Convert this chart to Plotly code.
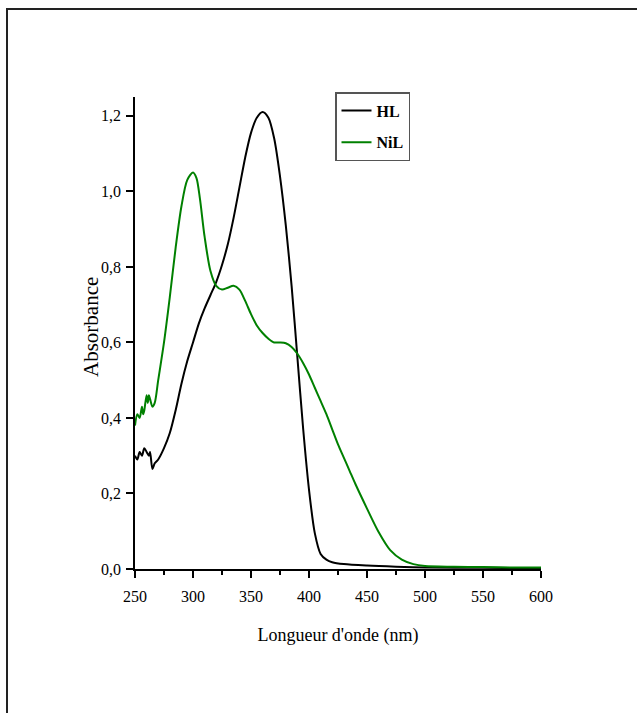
import plotly.graph_objects as go

wl_hl = [250, 252, 254, 256, 258, 260, 262, 263, 265, 267, 270, 275, 280, 285, 290, 295,
         300, 305, 310, 315, 320, 325, 330, 335, 340, 345, 350, 355, 360, 365, 370, 375,
         380, 385, 390, 395, 400, 405, 410, 415, 420, 430, 450, 475, 500, 550, 600]
abs_hl = [0.30, 0.29, 0.31, 0.30, 0.32, 0.31, 0.30, 0.31, 0.265, 0.28, 0.29, 0.32, 0.36, 0.42,
          0.49, 0.55, 0.60, 0.65, 0.69, 0.725, 0.76, 0.805, 0.86, 0.93, 1.01, 1.09, 1.155,
          1.195, 1.21, 1.195, 1.14, 1.04, 0.91, 0.75, 0.56, 0.37, 0.21, 0.095, 0.04, 0.025,
          0.018, 0.013, 0.009, 0.006, 0.004, 0.003, 0.002]

wl_nil = [250, 252, 254, 256, 257, 258, 260, 261, 262, 263, 265, 267, 270, 275, 280, 285,
          290, 295, 300, 303, 306, 310, 315, 320, 325, 330, 335, 340, 345, 350, 355, 360,
          365, 370, 375, 380, 385, 390, 395, 400, 405, 410, 415, 420, 425, 430, 435, 440,
          450, 460, 470, 480, 490, 500, 525, 550, 575, 600]
abs_nil = [0.38, 0.41, 0.40, 0.43, 0.41, 0.42, 0.46, 0.44, 0.46, 0.45, 0.43, 0.44, 0.50,
           0.60, 0.72, 0.85, 0.96, 1.03, 1.05, 1.035, 0.98, 0.88, 0.79, 0.75, 0.74, 0.745,
           0.75, 0.74, 0.71, 0.675, 0.645, 0.625, 0.61, 0.60, 0.60, 0.598, 0.588, 0.57,
           0.545, 0.515, 0.48, 0.445, 0.41, 0.37, 0.33, 0.295, 0.26, 0.225, 0.16, 0.098,
           0.05, 0.025, 0.013, 0.008, 0.006, 0.005, 0.004, 0.004]

FONT = "Liberation Serif"

fig = go.Figure()
fig.add_trace(go.Scatter(x=wl_hl, y=abs_hl, mode="lines", name="<b>HL</b>",
                         line=dict(color="black", width=2, shape="spline", smoothing=0.8),
                         legendgroup="a"))
fig.add_trace(go.Scatter(x=wl_nil, y=abs_nil, mode="lines", name="<b>NiL</b>",
                         line=dict(color="#008000", width=2, shape="spline", smoothing=0.8),
                         legendgroup="b"))

L, R, T, B = 135, 96, 97, 144
W, H = 637, 713
pw, ph = W - L - R, H - T - B

fig.update_layout(
    width=W, height=H,
    margin=dict(l=L, r=R, t=T, b=B),
    paper_bgcolor="white", plot_bgcolor="white",
    separators=", ",
    font=dict(family=FONT, color="black", size=16),
    showlegend=True,
    legend=dict(x=(335 - L) / pw, y=(H - B - 92) / ph, xanchor="left", yanchor="top",
                bordercolor="#555555", borderwidth=1.5, bgcolor="white",
                font=dict(family=FONT, size=16, color="black"),
                tracegroupgap=8, itemwidth=30),
    xaxis=dict(range=[250, 600], dtick=50, tick0=250, showgrid=False, zeroline=False,
               showline=True, linecolor="black", linewidth=1.5,
               ticks="outside", ticklen=7, tickwidth=1.5, tickcolor="black",
               ticklabelstandoff=5,
               minor=dict(dtick=25, tick0=250, ticks="outside", ticklen=4, tickwidth=1.5,
                          tickcolor="black", showgrid=False),
               tickfont=dict(family=FONT, size=16),
               title=dict(text="Longueur d'onde (nm)", font=dict(family=FONT, size=18),
                          standoff=24)),
    yaxis=dict(range=[0, 1.25], dtick=0.2, tick0=0, tickformat=".1f", showgrid=False,
               zeroline=False, showline=True, linecolor="black", linewidth=1.5,
               ticks="outside", ticklen=7, tickwidth=1.5, tickcolor="black",
               ticklabelstandoff=2,
               tickfont=dict(family=FONT, size=16)),
)

# y-axis title placed as rotated text
fig.add_annotation(text="Absorbance", xref="paper", yref="paper",
                   x=(91 - L) / pw, y=(H - B - 327) / ph, textangle=-90,
                   showarrow=False, xanchor="center", yanchor="middle",
                   font=dict(family=FONT, size=21, color="black"))

# page frame (left and top edges visible)
fig.add_shape(type="rect", xref="paper", yref="paper",
              x0=(7 - L) / pw, x1=(W + 20 - L) / pw,
              y0=(H - B - (H + 20)) / ph, y1=(H - B - 9) / ph,
              line=dict(color="#222222", width=2), fillcolor="rgba(0,0,0,0)", layer="below")

fig.write_html("out.html")
